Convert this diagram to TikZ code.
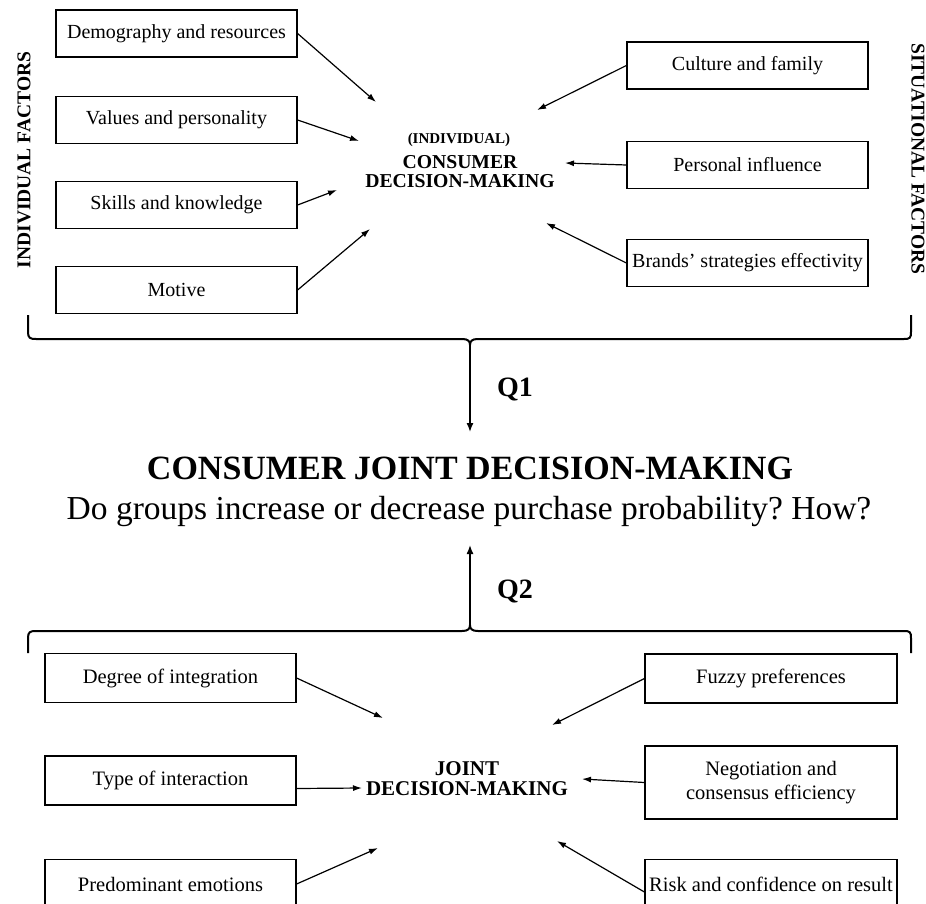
\documentclass[tikz,border=0pt]{standalone}
\usepackage{fontspec}
\setmainfont{Liberation Serif}
\usetikzlibrary{arrows.meta}
\frenchspacing
\tikzset{
  fbox/.style={draw, line width=1.2pt, minimum height=47pt, inner sep=0pt, font=\fontsize{20}{23}\selectfont, align=center},
  bbox/.style={fbox, font=\fontsize{20.5}{24}\selectfont},
  conn/.style={line width=1.2pt, -{Latex[length=9pt,width=6pt]}},
  brace/.style={line width=2pt},
  midlbl/.style={font=\bfseries\fontsize{19.7}{22}\selectfont, inner sep=0pt, align=center},
  sidelbl/.style={font=\bfseries\fontsize{19.5}{22}\selectfont, inner sep=0pt},
  qlbl/.style={font=\bfseries\fontsize{28}{32}\selectfont, inner sep=0pt}
}
\begin{document}
\begin{tikzpicture}[x=1pt,y=-1pt]
\useasboundingbox (0,0) rectangle (926,904);
\begin{scope}
\clip (0,0) rectangle (926,904);
% top left boxes
\node[fbox, minimum width=241pt] (dem) at (176.5,33.5) {Demography and resources};
\node[fbox, minimum width=241pt] (val) at (176.5,120) {Values and personality};
\node[fbox, minimum width=241pt] (ski) at (176.5,205) {Skills and knowledge};
\node[fbox, minimum width=241pt] (mot) at (176.5,290) {Motive};
% top right boxes
\node[fbox, minimum width=241pt] (cul) at (747.5,65.5) {Culture and family};
\node[fbox, minimum width=241pt] (per) at (747.5,165) {Personal influence};
\node[fbox, minimum width=241pt] (bra) at (747.5,263) {Brands' strategies effectivity};
% center label top
\node[midlbl, font=\bfseries\fontsize{15}{17}\selectfont] (indiv) at (459,140) {(INDIVIDUAL)};
\node[midlbl] (cdm) at (460,172) {CONSUMER\\[-3pt]DECISION-MAKING};
% side labels
\node[sidelbl, rotate=90] (indf) at (24,160) {INDIVIDUAL FACTORS};
\node[sidelbl, rotate=-90] (sitf) at (918,159) {SITUATIONAL FACTORS};
% arrow ends
\coordinate (t1) at (376,102);
\coordinate (t2) at (359,141);
\coordinate (t3) at (337,190);
\coordinate (t4) at (370,229);
\coordinate (t5) at (537,110);
\coordinate (t6) at (565,163);
\coordinate (t7) at (546,223);
\draw[conn] (dem.east) -- (t1);
\draw[conn] (val.east) -- (t2);
\draw[conn] (ski.east) -- (t3);
\draw[conn] (mot.east) -- (t4);
\draw[conn] (cul.west) -- (t5);
\draw[conn] (per.west) -- (t6);
\draw[conn] (bra.west) -- (t7);
% top brace
\coordinate (tb) at (470,345);
\draw[brace] (28,315) -- (28,332) .. controls (28,338) and (30,339) .. (36,339) -- (462,339) .. controls (468,339) and (470,341) .. (tb)
  .. controls (470,341) and (472,339) .. (478,339) -- (904,339) .. controls (910,339) and (911,338) .. (911,332) -- (911,315);
% title
\node[font=\bfseries\fontsize{34}{38}\selectfont, inner sep=0pt] (title) at (470,468) {CONSUMER JOINT DECISION-MAKING};
\node[font=\fontsize{33.5}{38}\selectfont, inner sep=0pt] (sub) at (469,511) {Do groups increase or decrease purchase probability? How?};
\coordinate (q1end) at (470,432);
\draw[line width=1.4pt, -{Latex[length=9pt,width=7pt]}] (tb) -- (q1end);
\node[qlbl] (q1) at (515,389) {Q1};
% bottom brace
\coordinate (bb) at (470,625);
\coordinate (q2end) at (470,545);
\draw[brace] (28,653) -- (28,638) .. controls (28,632) and (30,631) .. (36,631) -- (462,631) .. controls (468,631) and (470,629) .. (bb)
  .. controls (470,629) and (472,631) .. (478,631) -- (904,631) .. controls (910,631) and (911,632) .. (911,638) -- (911,653);
\draw[line width=1.4pt, -{Latex[length=9pt,width=7pt]}] (bb) -- (q2end);
\node[qlbl] (q2) at (515,591) {Q2};
% bottom left boxes
\node[bbox, minimum width=251pt, minimum height=49pt] (deg) at (170.5,678) {Degree of integration};
\node[bbox, minimum width=251pt, minimum height=49pt] (typ) at (170.5,780.5) {Type of interaction};
\node[bbox, minimum width=251pt, minimum height=49pt] (pre) at (170.5,884) {Predominant emotions};
% bottom right boxes
\node[bbox, minimum width=252pt, minimum height=49pt] (fuz) at (771,678.5) {Fuzzy preferences};
\node[bbox, minimum width=252pt, minimum height=73pt] (neg) at (771,782.5) {Negotiation and\\consensus efficiency};
\node[bbox, minimum width=252pt, minimum height=49pt] (ris) at (771,884) {Risk and confidence on result};
% center label bottom
\node[midlbl, font=\bfseries\fontsize{21}{23}\selectfont] (jdm) at (467,779) {JOINT\\[-3pt]DECISION-MAKING};
\coordinate (b1) at (383,718);
\coordinate (b2) at (362,788);
\coordinate (b3) at (378,848);
\coordinate (b4) at (552,725);
\coordinate (b5) at (582,779);
\coordinate (b6) at (557,841);
\draw[conn] (deg.east) -- (b1);
\draw[conn] ([yshift=-8pt]typ.east) -- (b2);
\draw[conn] (pre.east) -- (b3);
\draw[conn] (fuz.west) -- (b4);
\draw[conn] (neg.west) -- (b5);
\draw[conn] ([yshift=-8pt]ris.west) -- (b6);
\end{scope}
\end{tikzpicture}
\end{document}
